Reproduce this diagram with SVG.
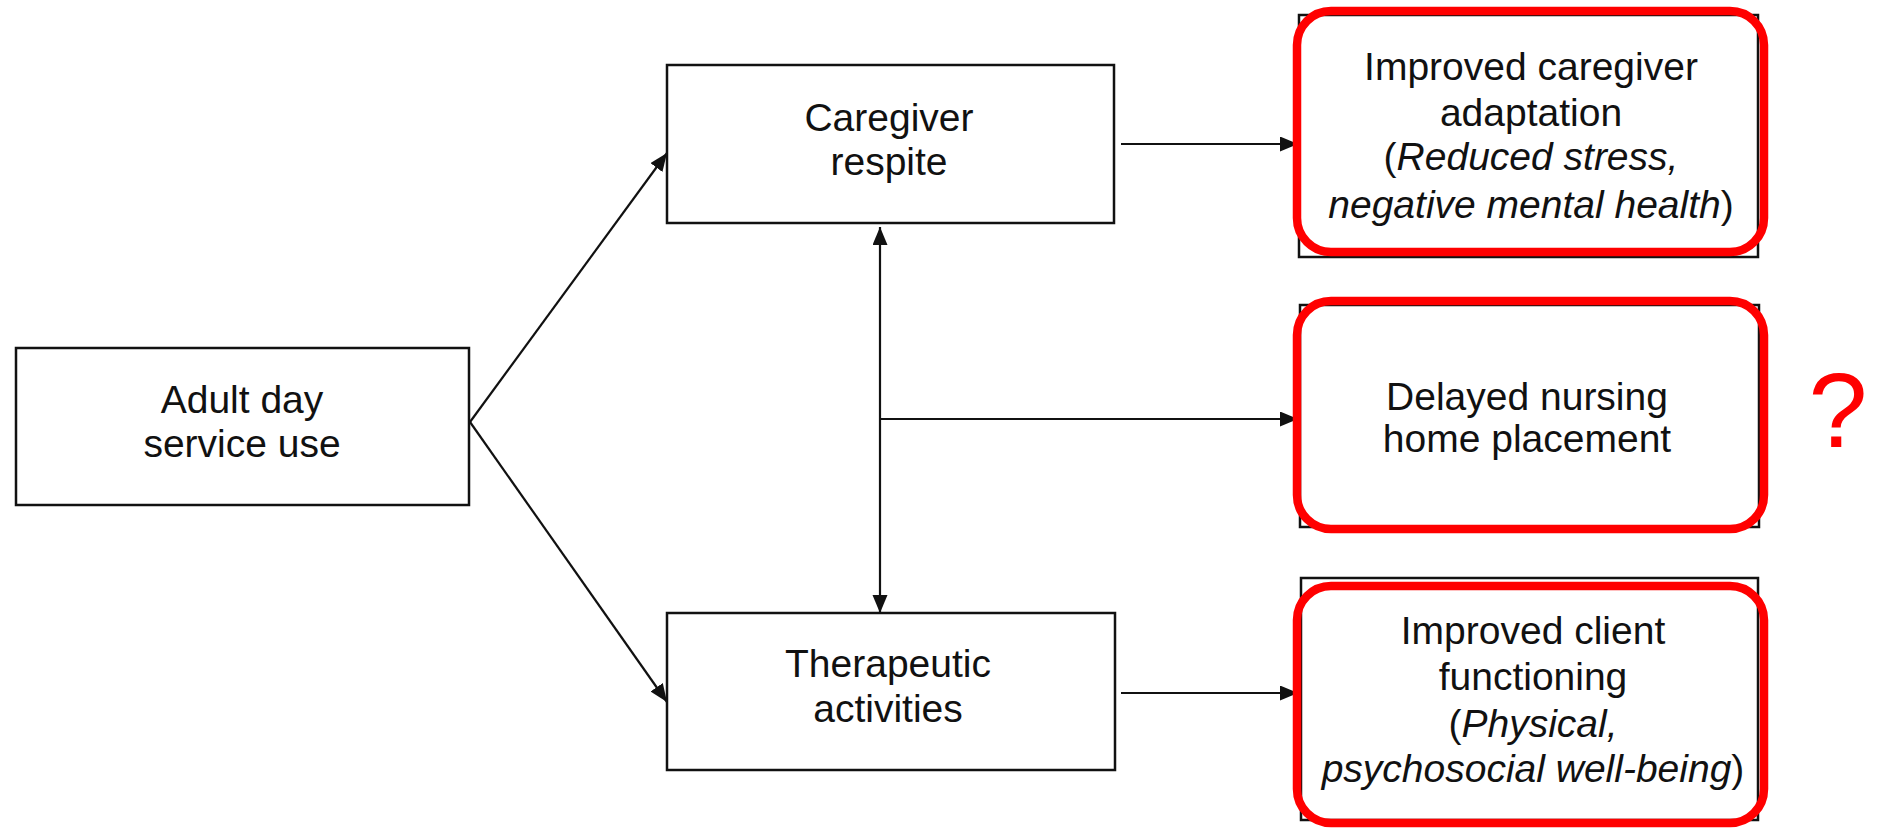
<svg xmlns="http://www.w3.org/2000/svg" width="1878" height="828" viewBox="0 0 1878 828">
<style>
.box{fill:#fff;stroke:#111;stroke-width:2.5}
.hl{fill:none;stroke:#f00;stroke-width:8.5}
.t{font-family:"Liberation Sans",Arial,sans-serif;fill:#111;text-anchor:middle;font-size:39px}
.i{font-style:italic}
.c{fill:none;stroke:#111;stroke-width:2.2}
</style>
<defs>
<marker id="ah" markerUnits="userSpaceOnUse" markerWidth="20" markerHeight="16" refX="18" refY="7.5" orient="auto-start-reverse">
<path d="M0,0 L18,7.5 L0,15 z" fill="#111"/>
</marker>
</defs>
<rect width="1878" height="828" fill="#fff"/>
<g id="connectors">
<path class="c" d="M470,422 L667,153" marker-end="url(#ah)"/>
<path class="c" d="M470,422 L667,702" marker-end="url(#ah)"/>
<path class="c" d="M1121,144 L1298,144" marker-end="url(#ah)"/>
<path class="c" d="M1121,693 L1298,693" marker-end="url(#ah)"/>
<path class="c" d="M880,227 L880,613" marker-start="url(#ah)" marker-end="url(#ah)"/>
<path class="c" d="M880,419 L1298,419" marker-end="url(#ah)"/>
</g>
<g id="adult">
<rect class="box" x="16" y="348" width="453" height="157"/>
<text class="t" x="242" y="413">Adult day</text>
<text class="t" x="242" y="457">service use</text>
</g>
<g id="respite">
<rect class="box" x="667" y="65" width="447" height="158"/>
<text class="t" x="889" y="131">Caregiver</text>
<text class="t" x="889" y="175">respite</text>
</g>
<g id="therapeutic">
<rect class="box" x="667" y="613" width="448" height="157"/>
<text class="t" x="888" y="677">Therapeutic</text>
<text class="t" x="888" y="722">activities</text>
</g>
<g id="adaptation">
<rect class="box" x="1299" y="15" width="459" height="242"/>
<rect class="hl" x="1297" y="11" width="467" height="241" rx="34"/>
<text class="t" x="1531" y="80">Improved caregiver</text>
<text class="t" x="1531" y="126">adaptation</text>
<text class="t" x="1531" y="170">(<tspan class="i">Reduced stress,</tspan></text>
<text class="t" x="1531" y="218"><tspan class="i">negative mental health</tspan>)</text>
</g>
<g id="nursing">
<rect class="box" x="1300" y="305" width="459" height="222"/>
<rect class="hl" x="1297" y="301" width="467" height="228" rx="34"/>
<text class="t" x="1527" y="410">Delayed nursing</text>
<text class="t" x="1527" y="452">home placement</text>
</g>
<g id="functioning">
<rect class="box" x="1301" y="578" width="457" height="242"/>
<rect class="hl" x="1297" y="586" width="467" height="237" rx="34"/>
<text class="t" x="1533" y="644">Improved client</text>
<text class="t" x="1533" y="690">functioning</text>
<text class="t" x="1533" y="737">(<tspan class="i">Physical,</tspan></text>
<text class="t" x="1533" y="782"><tspan class="i">psychosocial well-being</tspan>)</text>
</g>
<g id="question">
<text x="1838" y="447" font-family="Liberation Sans,Arial,sans-serif" font-size="106" fill="#f00" text-anchor="middle">?</text>
</g>
</svg>
